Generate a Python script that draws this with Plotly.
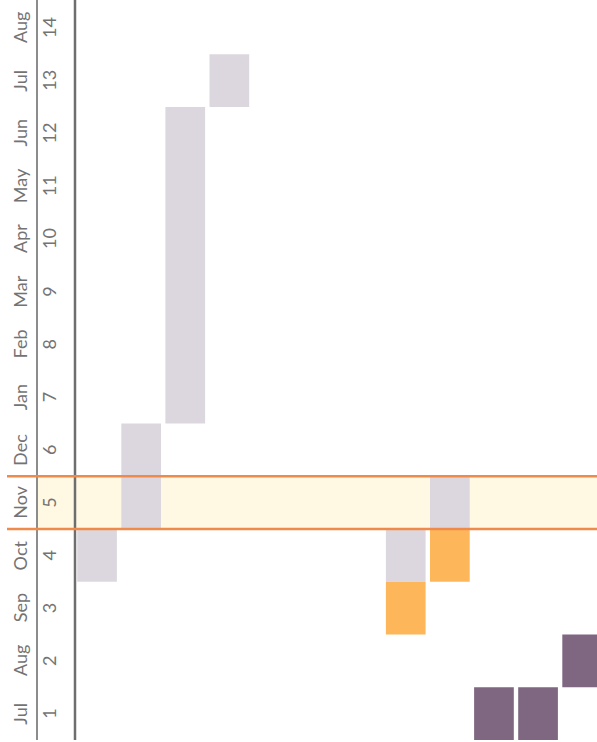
import plotly.graph_objects as go

# Row tick labels (bottom to top)
rows = list(range(1, 15))
months = ["Jul", "Aug", "Sep", "Oct", "Nov", "Dec", "Jan", "Feb", "Mar", "Apr", "May", "Jun", "Jul", "Aug"]

# Blocks: column index, start row, end row
gray_cols = [0, 1, 2, 3, 7, 8]
gray_start = [4, 5, 7, 13, 4, 5]
gray_end = [4, 6, 12, 13, 4, 5]

orange_cols = [7, 8]
orange_start = [3, 4]
orange_end = [3, 4]

purple_cols = [9, 10, 11]
purple_start = [1, 1, 2]
purple_end = [1, 1, 2]

highlight_row = 5

GRAY = "#DCD7DF"
ORANGE = "#FDB75A"
PURPLE = "#7F6681"
LINE_ORANGE = "#F08A4B"
BAND = "#FFF8E2"
TEXT = "#737373"


def block_trace(cols, starts, ends, color):
    return go.Bar(
        x=cols,
        base=[s - 0.5 for s in starts],
        y=[e - s + 1 for s, e in zip(starts, ends)],
        marker=dict(color=color, line=dict(width=0)),
        width=0.9,
        hoverinfo="skip",
        showlegend=False,
    )


fig = go.Figure()
fig.add_trace(block_trace(gray_cols, gray_start, gray_end, GRAY))
fig.add_trace(block_trace(orange_cols, orange_start, orange_end, ORANGE))
fig.add_trace(block_trace(purple_cols, purple_start, purple_end, PURPLE))

W, H = 597, 742
L = 75
plot_w = W - L


def px_to_paper(page_px):
    return (page_px - L) / plot_w


shapes = [
    dict(type="rect", xref="paper", yref="y", x0=px_to_paper(37), x1=1,
         y0=highlight_row - 0.5, y1=highlight_row + 0.5,
         fillcolor=BAND, line=dict(width=0), layer="below"),
    dict(type="line", xref="paper", yref="paper", x0=px_to_paper(37), x1=px_to_paper(37),
         y0=0, y1=1, line=dict(color="#8C8C8C", width=2)),
    dict(type="line", xref="paper", yref="paper", x0=0, x1=0,
         y0=0, y1=1, line=dict(color="#6E6E6E", width=2.5)),
    dict(type="line", xref="paper", yref="y", x0=px_to_paper(7), x1=1,
         y0=highlight_row - 0.5, y1=highlight_row - 0.5, line=dict(color=LINE_ORANGE, width=2.5)),
    dict(type="line", xref="paper", yref="y", x0=px_to_paper(7), x1=1,
         y0=highlight_row + 0.5, y1=highlight_row + 0.5, line=dict(color=LINE_ORANGE, width=2.5)),
]

annotations = []
for r, m in zip(rows, months):
    annotations.append(dict(x=px_to_paper(20), y=r, xref="paper", yref="y", text=m,
                            textangle=-90, showarrow=False, xanchor="center", yanchor="middle",
                            font=dict(family="Lato, Open Sans, sans-serif", size=18, color=TEXT)))
    annotations.append(dict(x=px_to_paper(49), y=r, xref="paper", yref="y", text=str(r),
                            textangle=-90, showarrow=False, xanchor="center", yanchor="middle",
                            font=dict(family="Lato, Open Sans, sans-serif", size=18, color=TEXT)))

fig.update_layout(
    width=W, height=H,
    margin=dict(l=L, r=0, t=0, b=2),
    paper_bgcolor="white", plot_bgcolor="white",
    barmode="overlay",
    shapes=shapes,
    annotations=annotations,
    xaxis=dict(range=[-0.5, -0.5 + plot_w / 44.1], showgrid=False, zeroline=False,
               showticklabels=False, showline=False, fixedrange=True),
    yaxis=dict(range=[0.5, 14.53], showgrid=False, zeroline=False,
               showticklabels=False, showline=False, fixedrange=True),
)

fig.write_html(
    "out.html",
    config={"displayModeBar": False},
    post_script="document.body.style.margin='0';document.body.style.overflow='hidden';",
)
